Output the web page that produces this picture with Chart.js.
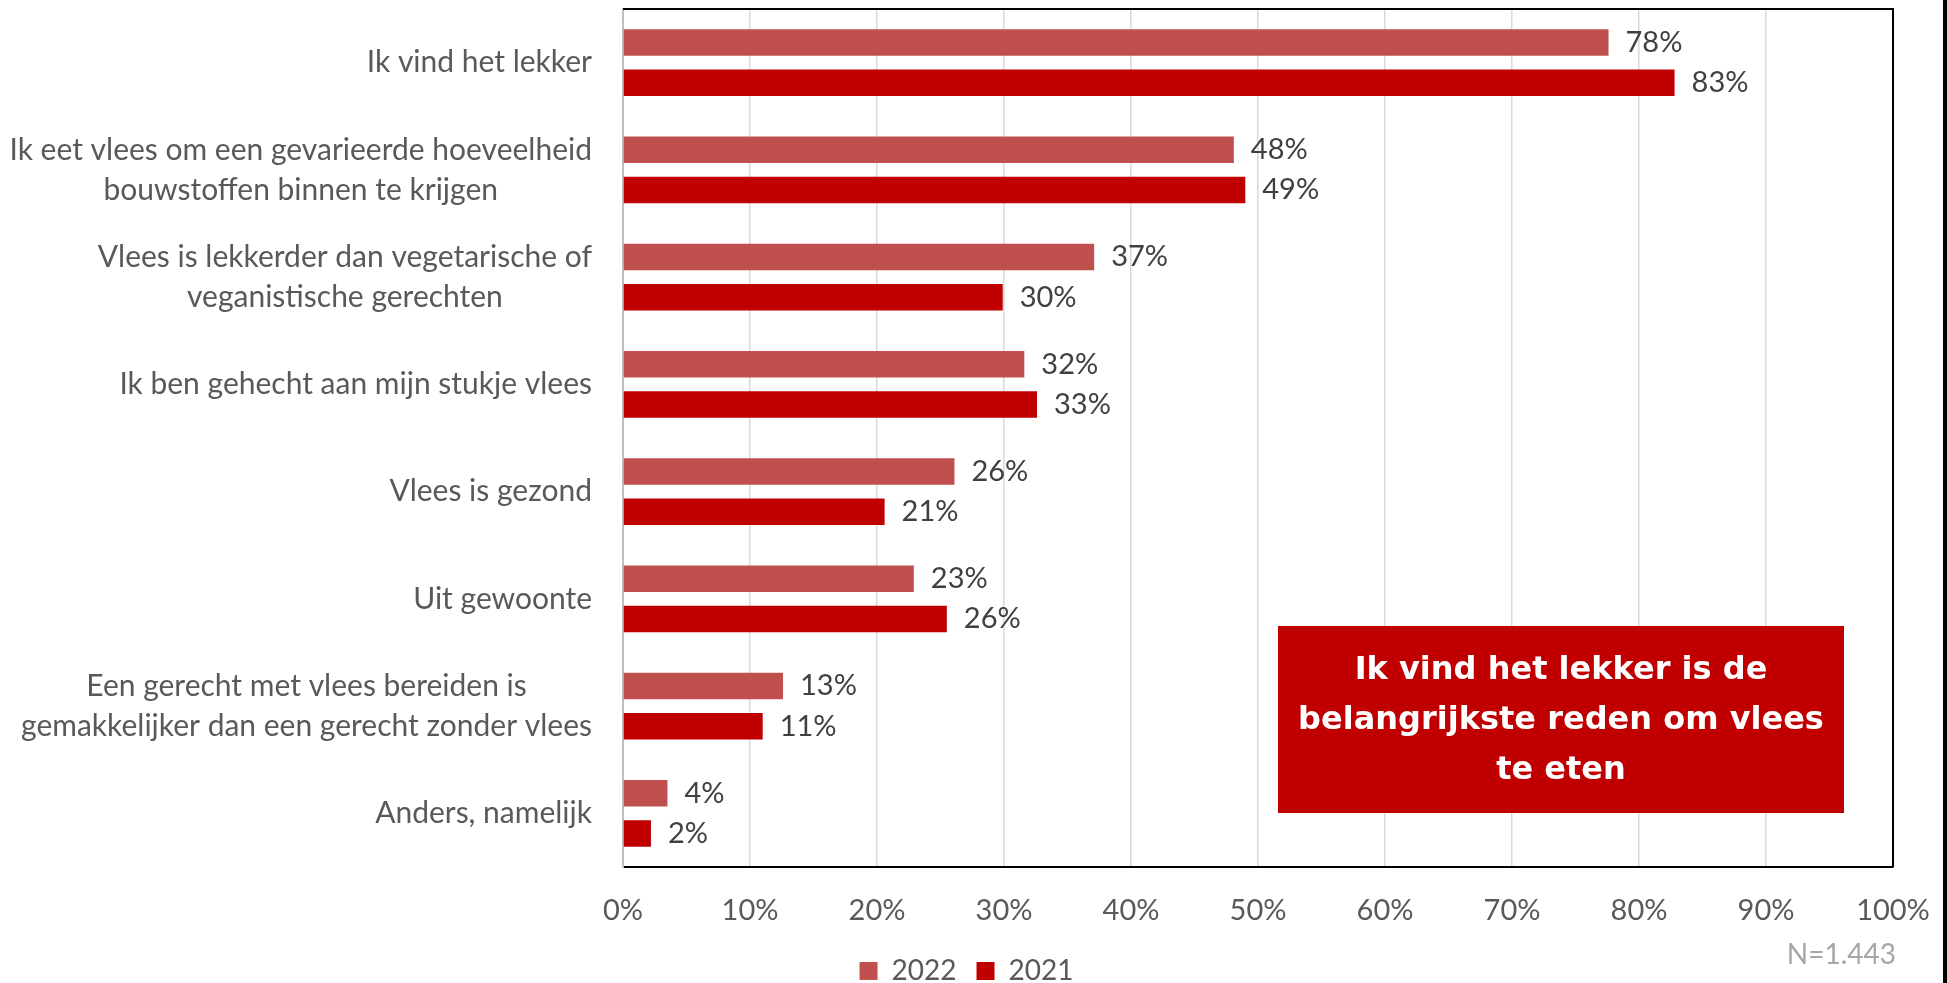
<!DOCTYPE html>
<html>
<head>
<meta charset="utf-8">
<script src="https://cdn.jsdelivr.net/npm/chart.js@4.4.1/dist/chart.umd.min.js"></script>
<style>
    html, body { margin: 0; padding: 0; background: #ffffff; overflow: hidden; }
    #wrap { position: absolute; left: 0; top: 0; width: 100vw; height: 100vh; }
</style>
</head>
<body>
<div id="wrap"><canvas id="chart"></canvas></div>
<script>
const categories = [
    "Ik vind het lekker",
    ["Ik eet vlees om een gevarieerde hoeveelheid", "bouwstoffen binnen te krijgen"],
    ["Vlees is lekkerder dan vegetarische of", "veganistische gerechten"],
    "Ik ben gehecht aan mijn stukje vlees",
    "Vlees is gezond",
    "Uit gewoonte",
    ["Een gerecht met vlees bereiden is", "gemakkelijker dan een gerecht zonder vlees"],
    "Anders, namelijk",
];
const values2022 = [77.6, 48.1, 37.1, 31.6, 26.1, 22.9, 12.6, 3.5];
const values2021 = [82.8, 49.0, 29.9, 32.6, 20.6, 25.5, 11.0, 2.2];
const seriesNames = ["2022", "2021"];
const xTickValues = [0, 10, 20, 30, 40, 50, 60, 70, 80, 90, 100];
const noteLines = ["Ik vind het lekker is de", "belangrijkste reden om vlees", "te eten"];
const sampleSize = "N=1.443";

const FONT = "Lato, 'Open Sans', sans-serif";

// labels, annotation box and frame lines
const extras = {
    id: "extras",
    afterDraw(chart) {
        const { ctx, chartArea: a, scales: { y } } = chart;
        ctx.save();

        // category labels, each block right-aligned, lines centred in the block
        ctx.font = "30px " + FONT;
        ctx.fillStyle = "#595959";
        ctx.textAlign = "center";
        ctx.textBaseline = "middle";
        categories.forEach((c, i) => {
            const lines = Array.isArray(c) ? c : [c];
            const w = Math.max(...lines.map((l) => ctx.measureText(l).width));
            const cx = a.left - 31 - w / 2;
            const cy = y.getPixelForValue(i);
            lines.forEach((l, j) => {
                ctx.fillText(l, cx, cy + (j - (lines.length - 1) / 2) * 40);
            });
        });

        // value labels
        ctx.font = "29px " + FONT;
        ctx.fillStyle = "#404040";
        ctx.textAlign = "left";
        chart.data.datasets.forEach((ds, di) => {
            chart.getDatasetMeta(di).data.forEach((bar, i) => {
                ctx.fillText(Math.round(ds.data[i]) + "%", bar.x + 17, bar.y);
            });
        });

        // note box
        ctx.fillStyle = "#C00000";
        ctx.fillRect(a.right - 615, 626, 566, 187);
        ctx.fillStyle = "#ffffff";
        ctx.font = "bold 32px 'DejaVu Sans', sans-serif";
        ctx.textAlign = "center";
        noteLines.forEach((l, j) => {
            ctx.fillText(l, a.right - 332, 671 + j * 50);
        });

        // sample size
        ctx.fillStyle = "#a6a6a6";
        ctx.font = "28px " + FONT;
        ctx.textAlign = "right";
        ctx.fillText(sampleSize, a.right + 3, 955);

        // plot frame top / right
        ctx.strokeStyle = "#000000";
        ctx.lineWidth = 2;
        ctx.beginPath();
        ctx.moveTo(a.left, a.top);
        ctx.lineTo(a.right, a.top);
        ctx.lineTo(a.right, a.bottom);
        ctx.stroke();

        // chart edge on the right
        ctx.fillStyle = "#000000";
        ctx.fillRect(chart.width - 4, 0, 4, chart.height);
        ctx.restore();
    },
};

new Chart(document.getElementById("chart"), {
    type: "bar",
    data: {
        labels: categories,
        datasets: [
            {
                label: seriesNames[0],
                data: values2022,
                backgroundColor: "#C0504D",
                categoryPercentage: 0.75,
                barPercentage: 0.66,
            },
            {
                label: seriesNames[1],
                data: values2021,
                backgroundColor: "#C00000",
                categoryPercentage: 0.75,
                barPercentage: 0.66,
            },
        ],
    },
    options: {
        indexAxis: "y",
        responsive: true,
        maintainAspectRatio: false,
        animation: false,
        events: [],
        layout: {
            padding: { left: 40, right: 54, top: 9, bottom: -12 },
        },
        scales: {
            x: {
                min: 0,
                max: 100,
                afterBuildTicks: (scale) => {
                    scale.ticks = xTickValues.map((v) => ({ value: v }));
                },
                afterFit: (scale) => {
                    scale.height = scale.chart.height + 12 - scale.chart.legend.height - 867;
                    scale.paddingLeft = 0;
                    scale.paddingRight = 0;
                },
                grid: {
                    color: "#d9d9d9",
                    lineWidth: 1.5,
                    drawTicks: false,
                },
                border: {
                    color: "#000000",
                    width: 2,
                },
                ticks: {
                    padding: 26,
                    color: "#595959",
                    font: { family: FONT, size: 29 },
                    callback: (v) => v + "%",
                },
            },
            y: {
                afterFit: (scale) => {
                    scale.width = 583;
                },
                grid: {
                    display: false,
                },
                border: {
                    color: "#bfbfbf",
                    width: 2,
                },
                ticks: {
                    display: false,
                },
            },
        },
        plugins: {
            legend: {
                position: "bottom",
                labels: {
                    boxWidth: 18,
                    boxHeight: 18,
                    padding: 20,
                    color: "#595959",
                    font: { family: FONT, size: 28 },
                },
            },
            tooltip: {
                enabled: false,
            },
        },
    },
    plugins: [extras],
});
</script>
</body>
</html>
